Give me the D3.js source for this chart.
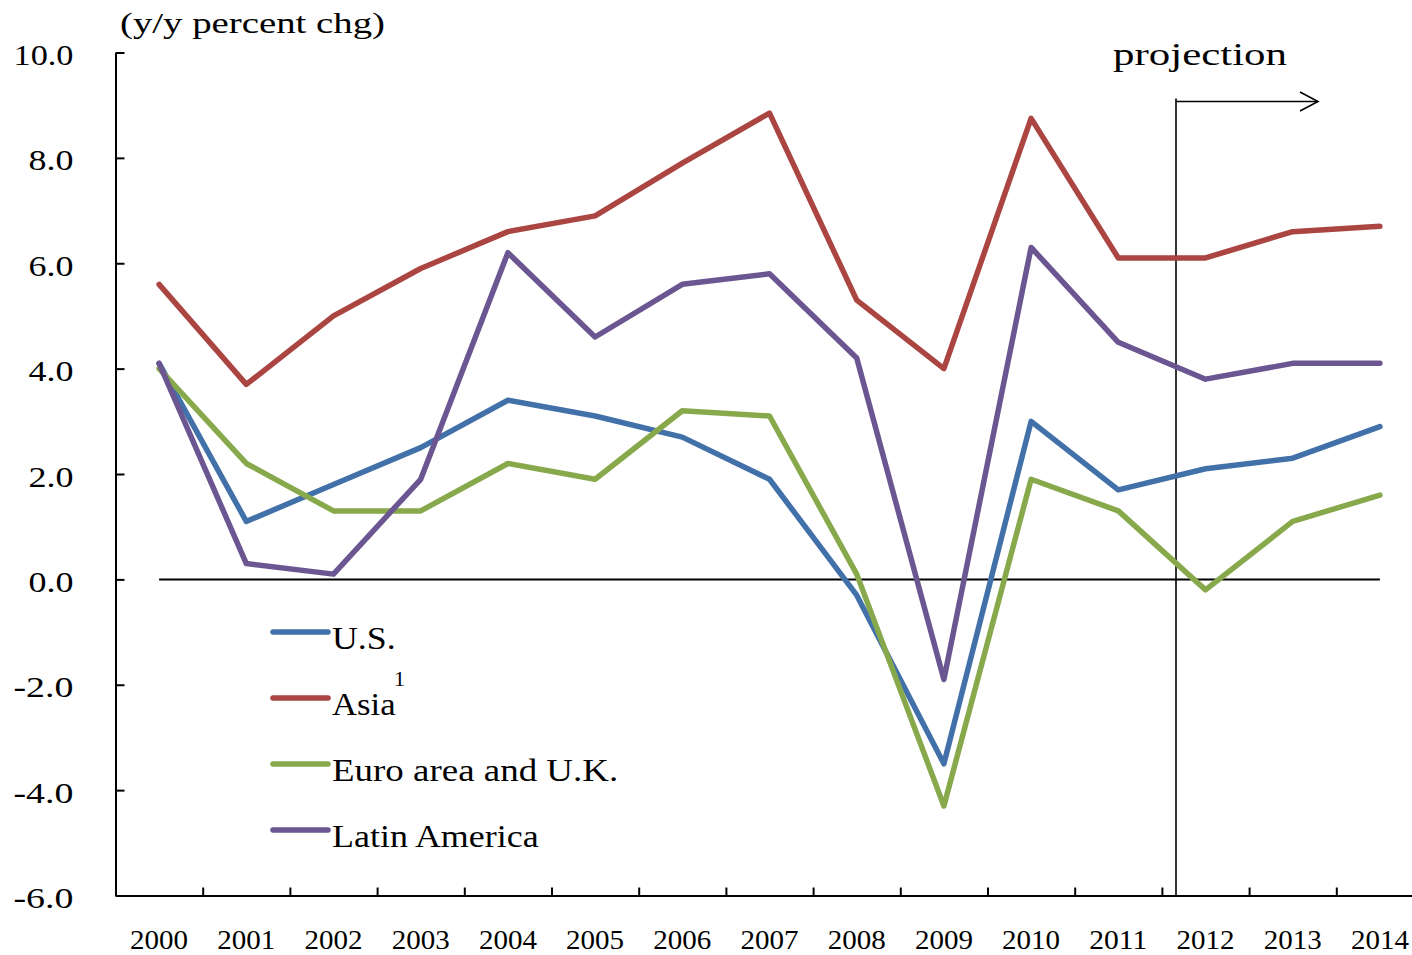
<!DOCTYPE html>
<html>
<head>
<meta charset="utf-8">
<script src="https://cdn.jsdelivr.net/npm/d3@7"></script>
<style>
  body { margin: 0; background: #ffffff; }
  svg { display: block; }
  text { font-family: "Liberation Serif", "DejaVu Serif", serif; fill: #000; }
</style>
</head>
<body>
<div id="chart"></div>
<script>
// Values (y/y percent change)
var years = ["2000","2001","2002","2003","2004","2005","2006","2007","2008","2009","2010","2011","2012","2013","2014"];
var usValues    = [4.1, 1.1, 1.8, 2.5, 3.4, 3.1, 2.7, 1.9, -0.3, -3.5, 3.0, 1.7, 2.1, 2.3, 2.9];
var asiaValues  = [5.6, 3.7, 5.0, 5.9, 6.6, 6.9, 7.9, 8.85, 5.3, 4.0, 8.75, 6.1, 6.1, 6.6, 6.7];
var euroValues  = [4.0, 2.2, 1.3, 1.3, 2.2, 1.9, 3.2, 3.1, 0.1, -4.3, 1.9, 1.3, -0.2, 1.1, 1.6];
var latamValues = [4.1, 0.3, 0.1, 1.9, 6.2, 4.6, 5.6, 5.8, 4.2, -1.9, 6.3, 4.5, 3.8, 4.1, 4.1];

var seriesNames = ["U.S.", "Asia", "Euro area and U.K.", "Latin America"];
var yTickValues = [-6, -4, -2, 0, 2, 4, 6, 8, 10];
var yTickLabels = ["-6.0", "-4.0", "-2.0", "0.0", "2.0", "4.0", "6.0", "8.0", "10.0"];
var unitLabel = "(y/y percent chg)";
var projectionLabel = "projection";
var projectionStartYear = "2012";

var series = [
  {name: seriesNames[0], values: usValues,    color: "#4271aa"},
  {name: seriesNames[1], values: asiaValues,  color: "#ab4541", sup: "1"},
  {name: seriesNames[2], values: euroValues,  color: "#88a94b"},
  {name: seriesNames[3], values: latamValues, color: "#6c5692"}
];

var chartWidth = 1412
  , chartHeight = 955;
var plot = {left: 115.5, top: 52.5, bottom: 895.5, right: 1423.5};
var strokeWidth = 5.5;

var svg = d3.select("#chart")
  .append("svg")
  .attr("width", chartWidth)
  .attr("height", chartHeight);

svg.append("rect")
  .attr("width", chartWidth)
  .attr("height", chartHeight)
  .attr("fill", "#ffffff");

// categories sit in the middle of equal bands
var xScale = d3.scaleBand()
  .domain(years)
  .range([plot.left, plot.right]);
var xCenter = function(d) { return xScale(d) + xScale.bandwidth() / 2; };

// band edges, for the tick marks between years
var xEdge = d3.scaleLinear()
  .domain([0, years.length])
  .range([plot.left, plot.right]);

var yScale = d3.scaleLinear()
  .domain([-6, 10])
  .range([plot.bottom, plot.top]);

// Y axis: ticks pointing inward, labels well left of the line
var yAxis = svg.append("g")
  .attr("class", "y axis")
  .attr("transform", "translate(" + plot.left + ",0)")
  .call(d3.axisLeft(yScale)
    .tickValues(yTickValues)
    .tickFormat(function(d, i) { return yTickLabels[i]; })
    .tickSizeInner(-9)
    .tickSizeOuter(0)
    .tickPadding(42));
yAxis.select(".domain").attr("stroke", "#000").attr("stroke-width", 2);
yAxis.selectAll(".tick line").attr("stroke", "#000").attr("stroke-width", 2);
yAxis.selectAll(".tick text")
  .attr("dy", "0.4em")
  .style("font-size", "30px")
  .attr("textLength", function(d, i) { return yTickLabels[i].length * 15; })
  .attr("lengthAdjust", "spacingAndGlyphs");

// X axis: tick marks at band edges
var xTicks = svg.append("g")
  .attr("class", "x axis")
  .attr("transform", "translate(0," + plot.bottom + ")")
  .call(d3.axisBottom(xEdge)
    .tickValues(d3.range(1, years.length))
    .tickFormat("")
    .tickSizeInner(-8)
    .tickSizeOuter(0));
xTicks.select(".domain").attr("stroke", "#000").attr("stroke-width", 2);
xTicks.selectAll(".tick line").attr("stroke", "#000").attr("stroke-width", 2);

// X labels centred under each year
var xLabels = svg.append("g")
  .attr("transform", "translate(0," + plot.bottom + ")")
  .call(d3.axisBottom(xScale).tickSize(0).tickPadding(34));
xLabels.select(".domain").remove();
xLabels.selectAll(".tick text")
  .style("font-size", "28px")
  .attr("textLength", 58)
  .attr("lengthAdjust", "spacingAndGlyphs");

// zero line
svg.append("line")
  .attr("x1", xCenter(years[0]))
  .attr("x2", xCenter(years[years.length - 1]))
  .attr("y1", yScale(0))
  .attr("y2", yScale(0))
  .attr("stroke", "#000")
  .attr("stroke-width", 2);

// projection marker, just before 2012
var projX = xCenter(projectionStartYear) - 29.5;
var arrowY = 101.5;
svg.append("line")
  .attr("x1", projX).attr("x2", projX)
  .attr("y1", plot.bottom).attr("y2", arrowY - 3)
  .attr("stroke", "#000").attr("stroke-width", 1.6);
svg.append("line")
  .attr("x1", projX).attr("x2", projX + 142)
  .attr("y1", arrowY).attr("y2", arrowY)
  .attr("stroke", "#000").attr("stroke-width", 1.6);
svg.append("path")
  .attr("d", "M" + (projX + 124) + "," + (arrowY - 9.5) +
             "L" + (projX + 142) + "," + arrowY +
             "L" + (projX + 124) + "," + (arrowY + 9.5))
  .attr("fill", "none")
  .attr("stroke", "#000")
  .attr("stroke-width", 1.6);
svg.append("text")
  .attr("x", 1113)
  .attr("y", 65)
  .style("font-size", "31px")
  .attr("textLength", 174)
  .attr("lengthAdjust", "spacingAndGlyphs")
  .text(projectionLabel);

// unit label
svg.append("text")
  .attr("x", 120)
  .attr("y", 33)
  .style("font-size", "29px")
  .attr("textLength", 265)
  .attr("lengthAdjust", "spacingAndGlyphs")
  .text(unitLabel);

// data lines
var line = d3.line()
  .x(function(d, i) { return xCenter(years[i]); })
  .y(function(d) { return yScale(d); });

svg.selectAll("path.line")
  .data(series)
  .enter()
  .append("path")
  .attr("class", "line")
  .attr("d", function(s) { return line(s.values); })
  .attr("fill", "none")
  .attr("stroke", function(s) { return s.color; })
  .attr("stroke-width", strokeWidth)
  .attr("stroke-linejoin", "round")
  .attr("stroke-linecap", "round");

// legend, stacked inside the plot
var legend = svg.append("g")
  .attr("transform", "translate(273,632)");
var legendItem = legend.selectAll("g.item")
  .data(series)
  .enter()
  .append("g")
  .attr("class", "item")
  .attr("transform", function(s, i) { return "translate(0," + (i * 66) + ")"; });
legendItem.append("line")
  .attr("x1", 0).attr("x2", 55)
  .attr("y1", 0).attr("y2", 0)
  .attr("stroke", function(s) { return s.color; })
  .attr("stroke-width", strokeWidth)
  .attr("stroke-linecap", "round");
legendItem.append("text")
  .attr("x", 59)
  .attr("y", 17)
  .style("font-size", "31px")
  .attr("textLength", function(s) { return s.name.length * 15.9; })
  .attr("lengthAdjust", "spacingAndGlyphs")
  .text(function(s) { return s.name; });
legendItem.filter(function(s) { return s.sup; })
  .append("text")
  .attr("x", 121)
  .attr("y", -12)
  .style("font-size", "22px")
  .text(function(s) { return s.sup; });
</script>
</body>
</html>
